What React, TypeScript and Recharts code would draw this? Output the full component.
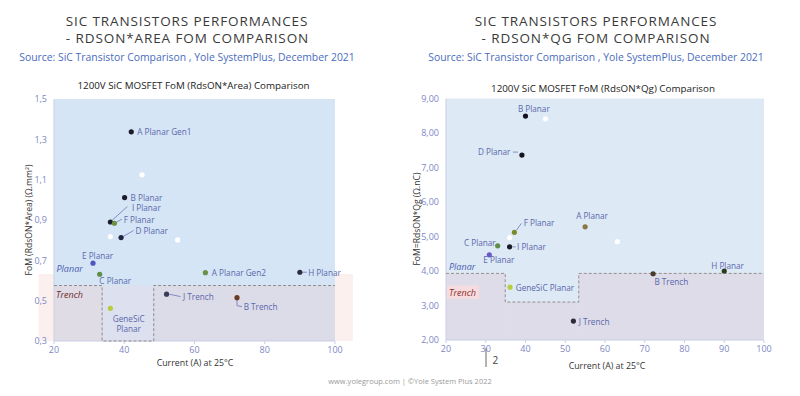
import React from 'react';
import { ScatterChart, Scatter, XAxis, YAxis, ReferenceArea } from 'recharts';

// ---------- Data: RdsON*Area chart ----------
const areaNames = ['A Planar Gen1', 'B Planar', 'I Planar', 'F Planar', 'D Planar', 'E Planar', 'C Planar', 'GeneSiC Planar', 'J Trench', 'A Planar Gen2', 'H Planar', 'B Trench'];
const areaCurrent = [42.0, 40.1, 36.05, 37.2, 39.1, 31.1, 33.0, 36.05, 52.05, 63.1, 90.0, 72.1];
const areaFom = [1.337, 1.011, 0.89, 0.884, 0.813, 0.686, 0.631, 0.462, 0.532, 0.639, 0.641, 0.515];
const areaWhiteCurrent = [45.05, 36.05, 55.2];
const areaWhiteFom = [1.124, 0.818, 0.801];
const areaXTicks = [20, 40, 60, 80, 100];
const areaYTicks = [0.3, 0.5, 0.7, 0.9, 1.1, 1.3, 1.5];
const areaBoundaryX = [20, 33.7, 33.7, 48.4, 48.4, 100];
const areaBoundaryY = [0.575, 0.575, 0.3, 0.3, 0.575, 0.575];

// ---------- Data: RdsON*Qg chart ----------
const qgNames = ['B Planar', 'D Planar', 'F Planar', 'A Planar', 'C Planar', 'I Planar', 'E Planar', 'GeneSiC Planar', 'J Trench', 'B Trench', 'H Planar'];
const qgCurrent = [40.0, 39.1, 37.2, 55.0, 33.0, 36.0, 30.9, 36.1, 52.05, 72.1, 90.0];
const qgFom = [8.49, 7.36, 5.12, 5.28, 4.73, 4.70, 4.47, 3.53, 2.55, 3.92, 4.0];
const qgWhiteCurrent = [45.0, 36.0, 63.1];
const qgWhiteFom = [8.41, 4.97, 4.85];
const qgXTicks = [20, 30, 40, 50, 60, 70, 80, 90, 100];
const qgYTicks = [2, 3, 4, 5, 6, 7, 8, 9];
const qgBoundaryX = [20, 34.9, 34.9, 53.4, 53.4, 100];
const qgBoundaryY = [3.93, 3.93, 3.1, 3.1, 3.93, 3.93];

// ---------- Styles ----------
const FONT = "'Open Sans', 'DejaVu Sans', sans-serif";
const LABEL_COLOR = '#5b68ac';
const TICK_COLOR = '#7d88c4';
const AXIS_COLOR = '#c9cfe6';

const areaColors: Record<string, string> = {
  'A Planar Gen1': '#1b1b2b', 'B Planar': '#1b1b2b', 'I Planar': '#1b2030', 'F Planar': '#6a9040',
  'D Planar': '#1f2540', 'E Planar': '#4f57c0', 'C Planar': '#5e8e48', 'GeneSiC Planar': '#b8cc3c',
  'J Trench': '#3b3b58', 'A Planar Gen2': '#6a9048', 'H Planar': '#2a2f3a', 'B Trench': '#6a3a24',
};
const qgColors: Record<string, string> = {
  'B Planar': '#141420', 'D Planar': '#141420', 'F Planar': '#7a8a30', 'A Planar': '#8a7844',
  'C Planar': '#5e8e48', 'I Planar': '#1b1b2b', 'E Planar': '#6a5ac8', 'GeneSiC Planar': '#b8cc3c',
  'J Trench': '#2b2b3b', 'B Trench': '#4a3a2a', 'H Planar': '#2a3a1a',
};

type LabelLayout = { dx: number; dy: number; anchor?: 'start' | 'end' | 'middle'; lines?: string[]; conn?: number[][] };
const areaLabelLayout: Record<string, LabelLayout> = {
  'A Planar Gen1': { dx: 6, dy: 0 },
  'B Planar': { dx: 6, dy: -0.3 },
  'I Planar': { dx: 21.5, dy: -14.2, conn: [[2, -2], [17, -15.5]] },
  'F Planar': { dx: 9.3, dy: -4, conn: [[2, -1], [7.5, -4]] },
  'D Planar': { dx: 14.3, dy: -7.4, conn: [[2, -1], [12.5, -7]] },
  'E Planar': { dx: -11, dy: -7.6 },
  'C Planar': { dx: -0.3, dy: 6.6 },
  'GeneSiC Planar': { dx: 18.3, dy: 10, anchor: 'middle', lines: ['GeneSiC', 'Planar'] },
  'J Trench': { dx: 16.4, dy: 2.4, conn: [[3, 0], [14, 2.4]] },
  'A Planar Gen2': { dx: 6.4, dy: 0 },
  'H Planar': { dx: 8.3, dy: 0, conn: [[3, 0], [7, 0]] },
  'B Trench': { dx: 6.7, dy: 9, conn: [[0, 2], [0, 8], [5, 9]] },
};
const qgLabelLayout: Record<string, LabelLayout> = {
  'B Planar': { dx: -7.6, dy: -7.7 },
  'D Planar': { dx: -11.5, dy: -3.3, anchor: 'end', conn: [[-9, -3], [-4, -3]] },
  'F Planar': { dx: 9.3, dy: -9.6, conn: [[2, -2], [7, -9]] },
  'A Planar': { dx: -9, dy: -11 },
  'C Planar': { dx: -2, dy: -3.4, anchor: 'end' },
  'I Planar': { dx: 7.4, dy: 0, conn: [[3, 0], [6, 0]] },
  'E Planar': { dx: -6, dy: 4.6 },
  'GeneSiC Planar': { dx: 5.7, dy: 0 },
  'J Trench': { dx: 5.3, dy: 0 },
  'B Trench': { dx: 1.3, dy: 8 },
  'H Planar': { dx: -13, dy: -5.3 },
};

const build = (names: string[], xs: number[], ys: number[]) => names.map((name, i) => ({ name, x: xs[i], y: ys[i] }));
const buildXY = (xs: number[], ys: number[]) => xs.map((x, i) => ({ x, y: ys[i] }));

const areaData = build(areaNames, areaCurrent, areaFom);
const areaWhite = buildXY(areaWhiteCurrent, areaWhiteFom);
const areaBoundary = buildXY(areaBoundaryX, areaBoundaryY);
const qgData = build(qgNames, qgCurrent, qgFom);
const qgWhite = buildXY(qgWhiteCurrent, qgWhiteFom);
const qgBoundary = buildXY(qgBoundaryX, qgBoundaryY);

const makeShape = (colors: Record<string, string>, layout: Record<string, LabelLayout>) => (props: any) => {
  const { cx, cy, payload } = props;
  if (cx == null || cy == null) return <g />;
  const name: string = payload.name;
  const l = layout[name] || { dx: 6, dy: 0 };
  const lines = l.lines || [name];
  return (
    <g>
      {l.conn && (
        <polyline
          points={l.conn.map((p) => `${cx + p[0]},${cy + p[1]}`).join(' ')}
          fill="none"
          stroke={LABEL_COLOR}
          strokeWidth={0.7}
        />
      )}
      <circle cx={cx} cy={cy} r={2.6} fill={colors[name] || '#222'} />
      {lines.map((t, i) => (
        <text
          key={i}
          x={cx + l.dx}
          y={cy + l.dy + i * 10.2}
          textAnchor={l.anchor || 'start'}
          dominantBaseline="central"
          fontSize={8.2}
          fontFamily={FONT}
          fill={LABEL_COLOR}
        >
          {t}
        </text>
      ))}
    </g>
  );
};

const whiteShape = (props: any) =>
  props.cx == null ? <g /> : <circle cx={props.cx} cy={props.cy} r={2.6} fill="#ffffff" />;
const noShape = () => <g />;

const fmt1 = (v: number) => v.toFixed(1).replace('.', ',');
const fmt2 = (v: number) => v.toFixed(2).replace('.', ',');

const tickStyle = { fill: TICK_COLOR, fontSize: 9, fontFamily: FONT };

const AreaChartPanel = () => (
  <ScatterChart width={400} height={396} margin={{ top: 99, right: 65, bottom: 25, left: 0 }}>
    <XAxis
      type="number"
      dataKey="x"
      domain={[20, 100]}
      ticks={areaXTicks}
      height={30}
      tick={tickStyle}
      tickSize={3}
      tickMargin={3}
      tickLine={{ stroke: AXIS_COLOR }}
      axisLine={{ stroke: AXIS_COLOR }}
    />
    <YAxis
      type="number"
      dataKey="y"
      domain={[0.3, 1.5]}
      ticks={areaYTicks}
      width={54}
      tick={tickStyle}
      tickFormatter={fmt1}
      tickSize={0}
      tickMargin={7}
      tickLine={false}
      axisLine={{ stroke: AXIS_COLOR }}
    />
    <ReferenceArea x1={15.6} x2={105.1} y1={0.3} y2={0.632} fill="#fcf0ef" fillOpacity={1} ifOverflow="visible" />
    <ReferenceArea x1={20} x2={100} y1={0.3} y2={1.5} fill="#d5e5f5" fillOpacity={1} />
    <ReferenceArea x1={20} x2={33.7} y1={0.3} y2={0.575} fill="#e0dce6" fillOpacity={1} />
    <ReferenceArea x1={33.7} x2={48.4} y1={0.3} y2={0.575} fill="#dde0ee" fillOpacity={1} />
    <ReferenceArea x1={48.4} x2={100} y1={0.3} y2={0.575} fill="#dcdbe8" fillOpacity={1} />
    <Scatter data={areaBoundary} line={{ stroke: '#8d8d8d', strokeDasharray: '3 2', strokeWidth: 1 }} shape={noShape} isAnimationActive={false} />
    <Scatter data={areaWhite} shape={whiteShape} isAnimationActive={false} />
    <Scatter data={areaData} shape={makeShape(areaColors, areaLabelLayout)} isAnimationActive={false} />
  </ScatterChart>
);

const QgChartPanel = () => (
  <ScatterChart width={400} height={396} margin={{ top: 98.5, right: 36, bottom: 26, left: 0 }}>
    <XAxis
      type="number"
      dataKey="x"
      domain={[20, 100]}
      ticks={qgXTicks}
      height={30}
      tick={tickStyle}
      tickSize={3}
      tickMargin={3}
      tickLine={{ stroke: AXIS_COLOR }}
      axisLine={{ stroke: AXIS_COLOR }}
    />
    <YAxis
      type="number"
      dataKey="y"
      domain={[2, 9]}
      ticks={qgYTicks}
      width={46}
      tick={tickStyle}
      tickFormatter={fmt2}
      tickSize={0}
      tickMargin={7}
      tickLine={false}
      axisLine={{ stroke: AXIS_COLOR }}
    />
    <ReferenceArea x1={20} x2={100} y1={2} y2={9} fill="#dde9f5" fillOpacity={1} />
    <ReferenceArea x1={20} x2={34.9} y1={2} y2={3.93} fill="#dddce8" fillOpacity={1} />
    <ReferenceArea x1={34.9} x2={53.4} y1={2} y2={3.1} fill="#dddce8" fillOpacity={1} />
    <ReferenceArea x1={53.4} x2={100} y1={2} y2={3.93} fill="#dddce8" fillOpacity={1} />
    <Scatter data={qgBoundary} line={{ stroke: '#9a8c8c', strokeDasharray: '3 2', strokeWidth: 1 }} shape={noShape} isAnimationActive={false} />
    <Scatter data={qgWhite} shape={whiteShape} isAnimationActive={false} />
    <Scatter data={qgData} shape={makeShape(qgColors, qgLabelLayout)} isAnimationActive={false} />
  </ScatterChart>
);

const T = (p: any) => (
  <text dominantBaseline="central" fontFamily={FONT} {...p} />
);

export default function App() {
  return (
    <div style={{ position: 'absolute', left: 0, top: 0, width: 800, height: 396, background: '#ffffff', overflow: 'hidden', fontFamily: FONT }}>
      <div style={{ position: 'absolute', left: 0, top: 0 }}>
        <AreaChartPanel />
      </div>
      <div style={{ position: 'absolute', left: 400, top: 0 }}>
        <QgChartPanel />
      </div>
      <svg width={800} height={396} style={{ position: 'absolute', left: 0, top: 0, pointerEvents: 'none' }}>
        {/* Titles */}
        <T x={187} y={20.8} textAnchor="middle" fontSize={13.5} letterSpacing={0.9} fill="#3a3a3a">SIC TRANSISTORS PERFORMANCES</T>
        <T x={187.5} y={38.3} textAnchor="middle" fontSize={13.5} letterSpacing={0.9} fill="#3a3a3a">- RDSON*AREA FOM COMPARISON</T>
        <T x={187} y={57} textAnchor="middle" fontSize={10.4} fill="#4a6cc0">Source: SiC Transistor Comparison , Yole SystemPlus, December 2021</T>
        <T x={193.5} y={85} textAnchor="middle" fontSize={9.8} fill="#222">1200V SiC MOSFET FoM (RdsON*Area) Comparison</T>
        <T x={596} y={20.8} textAnchor="middle" fontSize={13.5} letterSpacing={0.9} fill="#3a3a3a">SIC TRANSISTORS PERFORMANCES</T>
        <T x={596} y={38.3} textAnchor="middle" fontSize={13.5} letterSpacing={0.9} fill="#3a3a3a">- RDSON*QG FOM COMPARISON</T>
        <T x={596} y={56.5} textAnchor="middle" fontSize={10.4} fill="#4a6cc0">Source: SiC Transistor Comparison , Yole SystemPlus, December 2021</T>
        <T x={603} y={88} textAnchor="middle" fontSize={9.8} fill="#222">1200V SiC MOSFET FoM (RdsON*Qg) Comparison</T>
        {/* Axis labels */}
        <T x={29} y={220} textAnchor="middle" fontSize={8.6} fill="#333" transform="rotate(-90 29 220)">FoM (RdsON*Area) (Ω.mm²)</T>
        <T x={417} y={219} textAnchor="middle" fontSize={8.6} fill="#333" transform="rotate(-90 417 219)">FoM=RdsON*Qg (Ω.nC)</T>
        <T x={195} y={363} textAnchor="middle" fontSize={8.8} fill="#333">Current (A) at 25°C</T>
        <T x={607} y={366} textAnchor="middle" fontSize={8.8} fill="#333">Current (A) at 25°C</T>
        {/* Zone annotations */}
        <T x={56.5} y={268.3} fontSize={9} fontStyle="italic" fill="#4a5cb0">Planar</T>
        <T x={56} y={294} fontSize={9} fontStyle="italic" fill="#6b2a2a">Trench</T>
        <T x={449} y={266} fontSize={9} fontStyle="italic" fill="#4a5cb0">Planar</T>
        <rect x={447} y={285.5} width={32} height={13.5} fill="#f6dcdf" />
        <T x={449} y={292.3} fontSize={9} fontStyle="italic" fill="#8b2b2b">Trench</T>
        {/* Footer */}
        <T x={410} y={381} textAnchor="middle" fontSize={7.5} fill="#9a9a9a">www.yolegroup.com | ©Yole System Plus 2022</T>
        <line x1={486} y1={348} x2={486} y2={367} stroke="#666" strokeWidth={1} />
        <T x={492.5} y={360} fontSize={10} fill="#444">2</T>
      </svg>
    </div>
  );
}
